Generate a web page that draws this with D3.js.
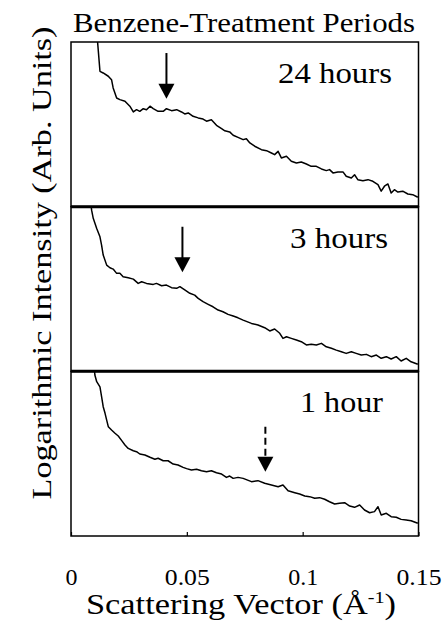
<!DOCTYPE html>
<html>
<head>
<meta charset="utf-8">
<script src="https://cdn.jsdelivr.net/npm/d3@7"></script>
<style>
  html, body { margin: 0; padding: 0; background: #fff; }
  svg { display: block; }
</style>
</head>
<body>
<svg id="chart" width="444" height="628"></svg>
<script>
// panel labels, top to bottom
const periods = ["24 hours", "3 hours", "1 hour"]

// [scattering vector (1/A), log intensity (arb.)]
const hours24 = [
  [0.0112,10.24],[0.0115,9.96],[0.0125,8.22],[0.0139,8.12],[0.0161,7.92],[0.0175,7.71],
  [0.0182,7.21],[0.0197,6.60],[0.0211,6.50],[0.0233,6.40],[0.0254,6.10],[0.0269,5.75],
  [0.0283,5.89],[0.0297,5.79],[0.0312,5.95],[0.0326,5.89],[0.0341,6.10],[0.0355,5.95],
  [0.0376,5.79],[0.0398,5.79],[0.0412,5.95],[0.0434,5.83],[0.0456,5.89],[0.0477,5.75],
  [0.0491,5.63],[0.0506,5.69],[0.0527,5.49],[0.0549,5.39],[0.0570,5.32],[0.0585,5.19],
  [0.0606,5.28],[0.0628,4.94],[0.0650,4.74],[0.0664,4.61],[0.0685,4.54],[0.0700,4.34],
  [0.0721,4.21],[0.0743,4.07],[0.0757,4.13],[0.0772,3.87],[0.0793,3.67],[0.0822,3.46],
  [0.0844,3.40],[0.0865,3.26],[0.0879,3.16],[0.0894,3.36],[0.0908,2.96],[0.0930,3.06],
  [0.0951,2.76],[0.0973,2.65],[0.0994,2.71],[0.1016,2.59],[0.1037,2.45],[0.1059,2.45],
  [0.1081,2.29],[0.1102,2.19],[0.1116,2.25],[0.1131,2.05],[0.1152,2.11],[0.1174,2.11],
  [0.1188,1.85],[0.1210,1.74],[0.1224,1.94],[0.1238,1.64],[0.1260,1.58],[0.1282,1.64],
  [0.1303,1.54],[0.1325,1.34],[0.1339,0.94],[0.1353,1.24],[0.1368,1.38],[0.1382,0.83],
  [0.1396,1.03],[0.1411,0.89],[0.1432,0.94],[0.1454,0.77],[0.1475,0.73],[0.1497,0.57]
]

const hours3 = [
  [0.0086,10.16],[0.0089,9.79],[0.0096,9.29],[0.0111,8.68],[0.0125,8.17],[0.0132,7.67],
  [0.0139,7.06],[0.0154,6.45],[0.0168,6.29],[0.0182,6.21],[0.0197,5.95],[0.0211,5.95],
  [0.0225,5.74],[0.0247,5.68],[0.0269,5.60],[0.0290,5.34],[0.0305,5.44],[0.0326,5.34],
  [0.0355,5.28],[0.0369,5.34],[0.0391,5.20],[0.0412,5.24],[0.0434,5.08],[0.0456,5.04],
  [0.0470,5.14],[0.0491,4.94],[0.0513,4.74],[0.0534,4.63],[0.0549,4.43],[0.0570,4.23],
  [0.0592,4.07],[0.0613,3.92],[0.0635,3.72],[0.0656,3.62],[0.0678,3.46],[0.0700,3.36],
  [0.0721,3.25],[0.0743,3.11],[0.0779,2.91],[0.0807,2.81],[0.0836,2.65],[0.0858,2.45],
  [0.0879,2.57],[0.0901,2.31],[0.0915,2.00],[0.0930,2.10],[0.0951,2.00],[0.0973,1.90],
  [0.0994,1.80],[0.1016,1.60],[0.1037,1.64],[0.1059,1.60],[0.1081,1.70],[0.1102,1.49],
  [0.1124,1.40],[0.1145,1.29],[0.1167,1.19],[0.1188,1.09],[0.1210,1.19],[0.1231,1.09],
  [0.1253,0.99],[0.1275,1.03],[0.1296,0.89],[0.1318,0.99],[0.1339,0.79],[0.1361,0.89],
  [0.1382,0.75],[0.1404,0.89],[0.1425,0.63],[0.1447,0.79],[0.1468,0.58],[0.1497,0.43]
]

const hours1 = [
  [0.0101,10.14],[0.0103,9.78],[0.0111,9.37],[0.0125,9.06],[0.0132,8.46],[0.0139,7.85],
  [0.0147,7.45],[0.0154,7.04],[0.0161,6.64],[0.0175,6.44],[0.0190,6.24],[0.0204,6.07],
  [0.0219,5.79],[0.0233,5.53],[0.0247,5.32],[0.0269,5.18],[0.0283,5.12],[0.0297,4.98],
  [0.0319,4.92],[0.0341,4.78],[0.0362,4.66],[0.0376,4.72],[0.0398,4.57],[0.0419,4.57],
  [0.0441,4.37],[0.0462,4.31],[0.0484,4.17],[0.0499,4.09],[0.0520,4.01],[0.0542,4.05],
  [0.0563,3.96],[0.0585,3.90],[0.0606,3.96],[0.0628,3.84],[0.0650,3.76],[0.0671,3.56],
  [0.0685,3.64],[0.0700,3.50],[0.0721,3.56],[0.0743,3.50],[0.0779,3.30],[0.0807,3.36],
  [0.0836,3.20],[0.0865,3.10],[0.0894,2.99],[0.0915,3.10],[0.0937,2.75],[0.0966,2.63],
  [0.0987,2.55],[0.1009,2.43],[0.1030,2.39],[0.1052,2.29],[0.1073,2.33],[0.1095,2.23],
  [0.1116,2.08],[0.1138,1.94],[0.1159,1.99],[0.1181,2.02],[0.1203,1.82],[0.1224,1.74],
  [0.1246,1.88],[0.1267,1.58],[0.1289,1.41],[0.1310,1.48],[0.1325,1.78],[0.1339,1.28],
  [0.1361,1.38],[0.1382,1.17],[0.1404,1.14],[0.1425,1.01],[0.1447,0.97],[0.1468,0.93],
  [0.1497,0.77]
]

// arrows marking the shoulder: q position, shaft top, tip
const arrowQ = [0.0412, 0.0481, 0.0839]
const arrowTop = [9.33, 8.78, 6.64]
const arrowTip = [6.56, 6.01, 3.90]
const arrowDashed = [false, false, true]

const xTicks = [0, 0.05, 0.1, 0.15]
const xTickLabels = ["0", "0.05", "0.1", "0.15"]

const curves = [hours24, hours3, hours1]

const serif = "'Liberation Serif', 'Times New Roman', Tinos, serif"
const frame = {left: 71, right: 418.5, top: 42, bottom: 536}
const panelH = (frame.bottom - frame.top) / 3

const svg = d3.select("#chart").style("font-family", serif)

const x = d3.scaleLinear().domain([0, 0.15]).range([frame.left, frame.right])

// label layout (right edge, stretched width) per panel
const labelEnd = [392, 388, 383]
const labelLen = [114, 98, 83]

curves.forEach((data, i) => {
    const top = frame.top + i * panelH
    const y = d3.scaleLinear().domain([0, 10]).range([top + panelH, top])

    svg.append("clipPath")
        .attr("id", "clip" + i)
        .append("rect")
        .attr("x", frame.left)
        .attr("y", top)
        .attr("width", frame.right - frame.left)
        .attr("height", panelH)

    const line = d3.line()
        .x(d => x(d[0]))
        .y(d => y(d[1]))

    svg.append("path")
        .datum(data)
        .attr("clip-path", "url(#clip" + i + ")")
        .attr("d", line)
        .style("fill", "none")
        .style("stroke", "#000")
        .style("stroke-width", 1.5)
        .style("stroke-linejoin", "round")

    // arrow
    const ax = x(arrowQ[i])
    const headW = 16, headH = 15
    const tipY = y(arrowTip[i])
    svg.append("line")
        .attr("x1", ax)
        .attr("x2", ax)
        .attr("y1", y(arrowTop[i]))
        .attr("y2", tipY - headH + 1)
        .style("stroke", "#000")
        .style("stroke-width", 2)
        .style("stroke-dasharray", arrowDashed[i] ? "7,4" : null)
    svg.append("path")
        .attr("d", `M${ax - headW / 2},${tipY - headH}L${ax + headW / 2},${tipY - headH}L${ax},${tipY}Z`)
        .style("fill", "#000")

    svg.append("text")
        .attr("x", labelEnd[i])
        .attr("y", top + 41)
        .attr("text-anchor", "end")
        .attr("textLength", labelLen[i])
        .attr("lengthAdjust", "spacingAndGlyphs")
        .style("font-family", serif)
        .style("font-size", "29px")
        .text(periods[i])

    svg.append("rect")
        .attr("x", frame.left)
        .attr("y", top)
        .attr("width", frame.right - frame.left)
        .attr("height", panelH)
        .style("fill", "none")
        .style("stroke", "#000")
        .style("stroke-width", 1.5)
})

// thicker dividers between panels
for (let i = 1; i < 3; i++) {
    const yy = frame.top + i * panelH
    svg.append("line")
        .attr("x1", frame.left)
        .attr("x2", frame.right)
        .attr("y1", yy)
        .attr("y2", yy)
        .style("stroke", "#000")
        .style("stroke-width", 3)
}

// bottom axis, ticks pointing inward
const xAxis = d3.axisBottom(x)
    .tickValues(xTicks)
    .tickFormat((d, i) => xTickLabels[i])
    .tickSizeInner(-4)
    .tickSizeOuter(0)

const gx = svg.append("g")
    .attr("transform", `translate(0,${frame.bottom})`)
    .call(xAxis)
    .attr("font-family", null)
    .attr("font-size", null)
gx.select(".domain").remove()
gx.selectAll(".tick line").style("stroke", "#000").style("stroke-width", 1.2)
gx.selectAll(".tick text")
    .attr("dy", null)
    .attr("y", 49)
    .attr("textLength", (d, i) => [12, 45, 30, 45][i])
    .attr("lengthAdjust", "spacingAndGlyphs")
    .style("fill", "#000")
    .style("font-family", serif)
    .style("font-size", "23px")

// titles
svg.append("text")
    .attr("x", 244)
    .attr("y", 32)
    .attr("text-anchor", "middle")
    .attr("textLength", 342)
    .attr("lengthAdjust", "spacingAndGlyphs")
    .style("font-family", serif)
    .style("font-size", "27px")
    .text("Benzene-Treatment Periods")

// x title, stretched to the scan's width
const xl = svg.append("text")
    .attr("transform", "translate(86,614) scale(1.185,1)")
    .style("font-family", serif)
    .style("font-size", "29px")
xl.append("tspan").text("Scattering Vector (Å")
xl.append("tspan").attr("dy", -11).style("font-size", "17px").text("-1")
xl.append("tspan").attr("dy", 11).text(")")

svg.append("text")
    .attr("transform", "translate(51,263) rotate(-90)")
    .attr("text-anchor", "middle")
    .attr("textLength", 473)
    .attr("lengthAdjust", "spacingAndGlyphs")
    .style("font-family", serif)
    .style("font-size", "27px")
    .text("Logarithmic Intensity (Arb. Units)")
</script>
</body>
</html>
